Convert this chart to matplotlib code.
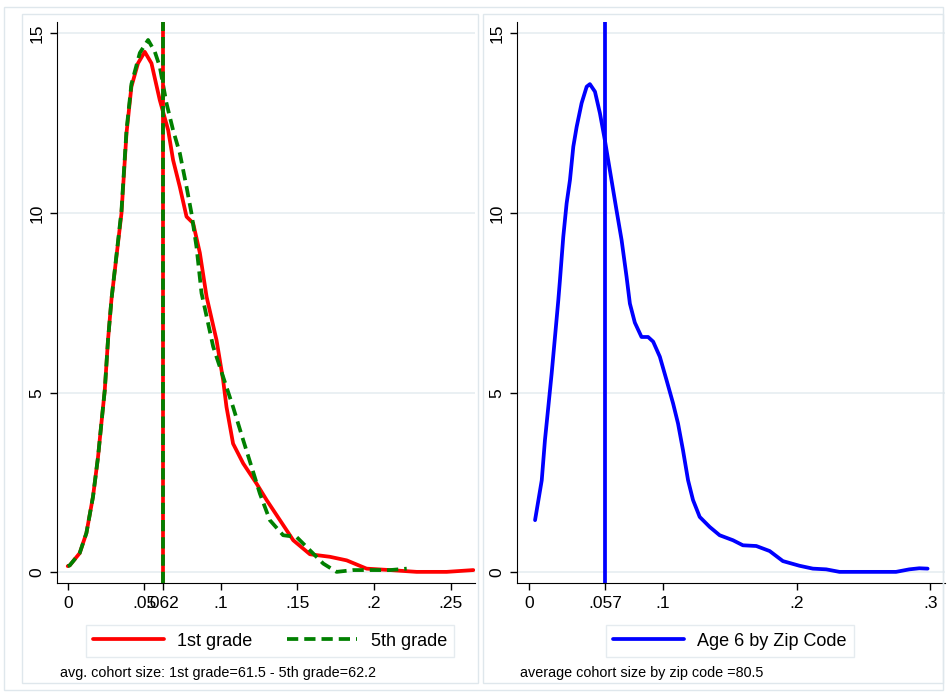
import numpy as np
import matplotlib.pyplot as plt
from matplotlib.patches import Rectangle

# 1st grade density (left panel)
g1_x = [0.0, 0.0013, 0.0078, 0.0122, 0.0165, 0.0198, 0.0220, 0.0242, 0.0263, 0.0286,
        0.0351, 0.0384, 0.0416, 0.0459, 0.0503, 0.0547, 0.0601, 0.0656, 0.0688, 0.0732,
        0.0776, 0.0819, 0.0863, 0.0907, 0.0972, 0.1015, 0.1037, 0.1080, 0.1146, 0.1233,
        0.1299, 0.1386, 0.1473, 0.1582, 0.1712, 0.1822, 0.1952, 0.2105, 0.2279, 0.2475,
        0.2649]
g1_y = [0.17, 0.19, 0.53, 1.09, 2.10, 3.21, 4.15, 5.07, 6.46, 7.61,
        9.99, 12.23, 13.52, 14.17, 14.49, 14.17, 13.15, 12.31, 11.48, 10.73,
        9.90, 9.72, 8.89, 7.67, 6.46, 5.35, 4.60, 3.58, 3.03, 2.47,
        2.01, 1.45, 0.89, 0.50, 0.43, 0.33, 0.10, 0.06, 0.01, 0.01,
        0.06]

# 5th grade density (left panel)
g5_x = [0.0, 0.0013, 0.0078, 0.0122, 0.0165, 0.0198, 0.0220, 0.0242, 0.0263, 0.0286,
        0.0351, 0.0384, 0.0416, 0.0471, 0.0525, 0.0569, 0.0601, 0.0645, 0.0688, 0.0732,
        0.0776, 0.0808, 0.0841, 0.0874, 0.0950, 0.1015, 0.1080, 0.1146, 0.1201, 0.1255,
        0.1320, 0.1407, 0.1495, 0.1582, 0.1669, 0.1756, 0.1865, 0.1995, 0.2105, 0.2214]
g5_y = [0.17, 0.19, 0.53, 1.09, 2.10, 3.21, 4.15, 5.07, 6.46, 7.61,
        10.06, 12.31, 13.59, 14.46, 14.82, 14.49, 14.08, 13.06, 12.31, 11.67,
        10.73, 10.0, 9.06, 7.77, 6.28, 5.44, 4.60, 3.68, 2.93, 2.19,
        1.45, 1.03, 0.98, 0.61, 0.24, 0.01, 0.06, 0.06, 0.06, 0.10]

# Age 6 by zip code density (right panel)
zip_x = [0.0045, 0.0095, 0.0119, 0.0144, 0.0169, 0.0194, 0.0219, 0.0231, 0.0256, 0.0281,
         0.0306, 0.0331, 0.0356, 0.0393, 0.0431, 0.0455, 0.0493, 0.0530, 0.0567, 0.0604,
         0.0654, 0.0692, 0.0729, 0.0754, 0.0791, 0.0841, 0.0890, 0.0928, 0.0978, 0.1028,
         0.1077, 0.1114, 0.1151, 0.1189, 0.1226, 0.1276, 0.1351, 0.1425, 0.1525, 0.1599,
         0.1699, 0.1799, 0.1898, 0.2022, 0.2122, 0.2222, 0.2321, 0.2520, 0.2744, 0.2843,
         0.2918, 0.2980]
zip_y = [1.45, 2.56, 3.68, 4.60, 5.53, 6.55, 7.58, 8.13, 9.34, 10.27,
         10.92, 11.85, 12.40, 13.06, 13.52, 13.59, 13.38, 12.78, 12.03, 11.20,
         10.08, 9.25, 8.23, 7.48, 6.95, 6.55, 6.55, 6.42, 6.00, 5.35,
         4.70, 4.14, 3.40, 2.56, 2.01, 1.54, 1.26, 1.03, 0.89, 0.75,
         0.73, 0.59, 0.31, 0.18, 0.10, 0.08, 0.01, 0.01, 0.01, 0.08,
         0.11, 0.10]

mean_g1 = 0.062
mean_g5 = 0.0625
mean_zip = 0.057

left_xticks = [0, 0.05, 0.062, 0.1, 0.15, 0.2, 0.25]
left_xlabels = ['0', '.05', '.062', '.1', '.15', '.2', '.25']
right_xticks = [0, 0.057, 0.1, 0.2, 0.3]
right_xlabels = ['0', '.057', '.1', '.2', '.3']
yticks = [0, 5, 10, 15]

plt.rcParams['font.family'] = ['Liberation Sans', 'DejaVu Sans']

fig = plt.figure(figsize=(9.47, 6.94), dpi=100)
W, H = 947, 694


def fx(px):
    return px / W


def fy(py):
    return 1 - py / H


grid_c = '#e6edf1'
frame_c = '#dfe7ec'

# panel frames
fig.patches.append(Rectangle((fx(4), fy(690)), fx(943) - fx(4), fy(7) - fy(690),
                             transform=fig.transFigure, fill=False, ec=frame_c, lw=1))
fig.patches.append(Rectangle((fx(22), fy(683)), fx(478) - fx(22), fy(14) - fy(683),
                             transform=fig.transFigure, fill=False, ec=frame_c, lw=1))
fig.patches.append(Rectangle((fx(483), fy(683)), fx(943) - fx(483), fy(14) - fy(683),
                             transform=fig.transFigure, fill=False, ec=frame_c, lw=1))

ax1 = fig.add_axes([fx(57), fy(583), fx(475) - fx(57), fy(22) - fy(583)])
ax2 = fig.add_axes([fx(517), fy(583), fx(945) - fx(517), fy(22) - fy(583)])

lw = 2.7
for ax in (ax1, ax2):
    ax.set_ylim(-0.3, 15.32)
    ax.set_yticks(yticks)
    ax.set_yticklabels([str(t) for t in yticks], rotation=90, va='center', fontsize=12.5)
    for s in ('top', 'right'):
        ax.spines[s].set_visible(False)
    ax.grid(axis='y', color=grid_c, lw=1.2)
    ax.set_axisbelow(True)
    ax.tick_params(length=5, width=1, labelsize=12.5, pad=4)

ax1.set_xlim(-0.007, 0.266)
ax1.set_xticks(left_xticks)
ax1.set_xticklabels(left_xlabels)
l1, = ax1.plot(g1_x, g1_y, color='red', lw=lw, solid_joinstyle='round',
               solid_capstyle='round')
l5, = ax1.plot(g5_x, g5_y, color='green', lw=lw, dashes=(3, 1.6),
               dash_joinstyle='round')
ax1.axvline(mean_g1, color='red', lw=lw)
ax1.axvline(mean_g5, color='green', lw=lw, dashes=(3, 1.6))
leg1 = ax1.legend([l1, l5], ['1st grade', '5th grade'], loc='center',
                  bbox_to_anchor=((270 - 57) / 418, (583 - 641) / 561),
                  ncol=2, frameon=True, fancybox=False, edgecolor=frame_c,
                  fontsize=13, handlelength=3.9, columnspacing=1.9,
                  borderpad=0.4, handletextpad=0.75)
leg1.get_frame().set_linewidth(1)
fig.text(fx(60), fy(673), 'avg. cohort size: 1st grade=61.5 - 5th grade=62.2',
         fontsize=10.4, va='center', ha='left')

ax2.set_xlim(-0.009, 0.311)
ax2.set_xticks(right_xticks)
ax2.set_xticklabels(right_xlabels)
lz, = ax2.plot(zip_x, zip_y, color='blue', lw=lw, solid_joinstyle='round',
               solid_capstyle='round')
ax2.axvline(mean_zip, color='blue', lw=lw)
leg2 = ax2.legend([lz], ['Age 6 by Zip Code'], loc='center',
                  bbox_to_anchor=((730 - 517) / 428, (583 - 641) / 561),
                  frameon=True, fancybox=False, edgecolor=frame_c,
                  fontsize=13, handlelength=3.9, borderpad=0.4, handletextpad=0.75)
leg2.get_frame().set_linewidth(1)
fig.text(fx(520), fy(673), 'average cohort size by zip code =80.5',
         fontsize=10.4, va='center', ha='left')

fig.savefig('out.png', dpi=100)
